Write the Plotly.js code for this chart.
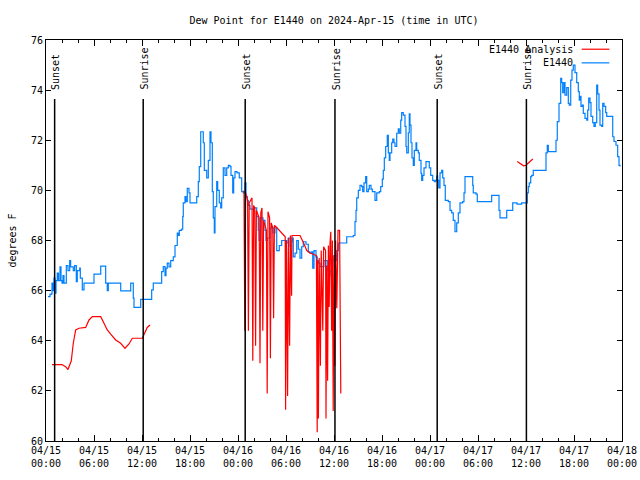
<!DOCTYPE html>
<html><head><meta charset="utf-8">
<script src="https://cdn.plot.ly/plotly-3.0.1.min.js"></script>
<style>body{margin:0;background:#fff}</style>
</head><body><div id="chart" style="width:640px;height:480px"></div>
<script>
// hours after 2024-04-15 00:00 UTC
const blueHours = [0.25,0.5,0.66,0.75,0.875,1.0,1.125,1.25,1.41,1.56,1.75,1.875,2.0,2.125,2.25,2.54,2.75,2.96,3.08,3.41,3.58,3.79,3.91,4.21,4.29,4.54,4.75,5.75,6.0,6.625,6.84,7.375,7.46,7.66,7.79,9.125,9.34,10.375,10.59,10.84,10.91,11.0,11.625,11.84,13.09,13.21,13.41,14.34,14.46,14.66,14.875,15.0,15.16,15.375,15.59,15.91,16.125,16.41,16.54,16.66,16.96,17.09,17.16,17.375,17.5,17.66,17.875,18.0,18.71,18.84,19.04,19.16,19.34,19.54,19.66,19.79,19.96,20.09,20.29,20.5,20.625,20.79,20.91,21.04,21.125,21.34,21.46,21.66,21.84,21.96,22.16,22.375,22.59,22.79,23.0,23.125,23.34,23.46,23.625,23.875,24.16,24.46,24.66,24.875,25.0,25.16,25.29,25.5,26.0,26.34,26.54,26.625,26.84,27.125,27.375,27.5,27.66,28.0,28.375,28.625,28.84,29.04,29.16,29.46,30.09,30.29,30.5,30.625,30.75,30.91,31.125,31.34,31.54,31.75,31.96,32.16,32.5,32.79,33.0,33.21,33.34,33.5,33.75,33.91,34.04,34.25,34.625,34.75,35.09,35.16,35.29,35.5,35.71,35.84,36.0,36.21,36.34,36.54,37.375,37.59,38.41,38.625,38.75,38.84,39.04,39.25,39.46,39.59,39.75,39.96,40.09,40.29,40.41,40.625,40.79,41.125,41.34,41.66,41.84,42.04,42.16,42.29,42.46,42.66,42.79,42.91,43.0,43.21,43.34,43.5,43.625,43.84,44.04,44.16,44.34,44.46,44.66,44.875,45.0,45.09,45.29,45.41,45.5,45.625,45.75,45.91,46.04,46.25,46.34,46.54,46.66,46.875,46.96,47.09,47.25,47.5,47.66,47.91,48.09,48.34,48.54,48.71,48.84,48.96,49.09,49.25,49.46,49.59,49.75,49.91,50.29,50.5,50.71,50.91,51.125,51.34,51.54,51.75,52.09,52.25,52.375,53.125,53.34,53.41,53.75,53.91,55.5,55.71,56.41,56.625,56.75,57.375,57.59,58.125,58.34,58.875,59.46,60.09,60.16,60.29,60.41,60.59,60.71,60.91,62.375,62.5,62.66,62.79,63.625,63.75,63.91,64.125,64.34,64.46,64.59,64.75,64.875,65.09,65.29,65.41,65.59,65.75,65.91,66.125,66.34,66.54,66.66,66.75,66.875,67.04,67.16,67.375,67.59,67.71,67.84,68.0,68.125,68.34,68.5,68.66,68.84,68.96,69.125,69.25,69.46,69.59,69.75,69.96,70.09,70.625,70.84,71.0,71.25,71.46,71.625,71.75];
const blueValues = [65.76,65.85,65.87,66.3,66.0,66.5,65.9,66.4,66.7,66.4,66.95,66.4,66.3,66.6,66.3,67.0,66.8,67.2,66.95,66.8,67.0,66.36,66.8,66.9,66.5,66.03,66.3,66.3,66.66,66.66,66.98,66.98,66.3,66.0,66.3,66.3,65.99,65.99,66.3,66.3,65.7,65.33,65.33,65.65,65.65,66.03,66.3,66.3,66.76,66.96,66.6,66.9,67.1,66.95,67.2,67.35,67.8,68.3,68.2,68.4,68.45,68.95,69.5,69.75,69.55,70.08,69.9,69.5,69.5,69.75,70.35,70.95,72.34,72.34,71.9,70.8,70.8,70.5,71.2,72.34,71.9,69.95,68.9,68.3,69.35,70.35,70.0,69.5,69.3,69.7,70.9,70.6,70.9,71.0,70.95,70.6,69.9,70.5,70.75,70.7,70.5,69.95,69.9,70.3,69.75,69.6,69.4,69.25,69.3,68.95,68.4,68.0,68.9,68.8,68.4,68.0,68.1,68.5,68.3,68.5,67.6,67.6,67.8,68.0,67.9,68.1,67.75,67.95,68.1,67.35,67.5,68.0,67.65,67.3,67.75,67.95,67.85,67.55,67.5,67.55,66.9,67.6,67.35,67.2,67.1,66.96,66.96,67.2,67.2,66.8,66.6,66.8,67.0,67.2,67.4,67.2,67.6,67.9,67.9,68.15,68.2,68.75,69.2,69.7,70.0,70.2,70.15,69.95,70.3,70.55,69.95,70.05,70.2,70.05,69.95,69.6,69.9,69.95,70.15,70.45,70.8,71.3,71.75,72.2,71.5,71.2,71.5,71.9,72.05,71.9,71.75,72.28,72.45,72.28,72.8,73.1,73.0,72.55,71.75,71.5,72.3,73.05,72.6,71.9,71.3,71.0,71.6,71.9,71.6,71.5,71.2,70.68,70.4,70.6,70.9,71.15,71.15,70.9,70.6,70.4,70.35,70.4,70.57,70.4,70.1,70.7,70.8,70.5,70.2,69.6,69.55,69.2,69.1,68.8,68.35,68.7,69.1,69.5,69.55,69.9,70.55,70.55,70.2,69.9,69.85,69.55,69.55,69.8,69.8,69.2,68.9,68.9,69.2,69.2,69.5,69.45,69.5,69.5,69.9,70.15,70.3,70.55,70.6,70.8,70.8,71.5,71.8,71.55,71.55,72.0,72.74,73.47,74.47,74.3,73.9,74.3,73.8,74.1,73.47,73.4,74.4,74.8,75.0,74.7,74.3,73.94,73.6,73.75,73.35,73.4,73.07,72.87,72.8,73.2,73.68,73.5,72.95,72.7,72.55,72.7,74.2,73.85,73.2,72.6,72.55,73.47,73.35,73.1,72.95,72.95,72.14,71.95,71.8,71.35,71.0,70.95];

const redHours = [0.75,2.0,2.5,2.75,3.16,3.41,3.71,4.125,4.96,5.375,5.79,6.84,7.25,7.66,8.09,8.71,9.34,9.875,10.375,10.79,12.04,12.25,12.66,13.0,
  13.5,
  24.75,24.85,24.95,25.2,25.3,25.4,25.75,25.85,25.95,26.1,26.2,26.3,26.65,26.75,26.85,27.0,27.1,27.2,27.55,27.65,27.75,27.95,28.05,28.15,28.35,28.45,28.55,28.75,29.9,29.95,30.05,30.2,30.3,30.45,30.55,30.7,30.75,31.75,32.2,32.6,33.0,33.8,33.9,33.95,34.05,34.15,34.3,34.4,34.6,34.7,34.95,35.0,35.1,35.2,35.3,35.4,35.5,35.6,35.7,35.8,35.9,36.0,36.1,36.2,36.35,36.5,36.7,36.85,
  40.0,
  58.9,59.3,59.7,60.0,60.3,60.6,60.85];
const redValues = [63.05,63.05,62.95,62.85,63.2,63.9,64.43,64.5,64.53,64.83,64.96,64.96,64.7,64.43,64.26,64.03,63.9,63.7,63.87,64.1,64.1,64.23,64.53,64.63,
  null,
  70.0,64.4,69.9,69.6,64.4,69.5,69.7,63.2,69.4,69.3,63.8,69.2,68.9,63.1,69.1,69.3,64.4,68.8,68.4,61.9,69.15,68.9,63.3,68.7,68.5,64.9,68.6,68.55,68.15,61.25,68.0,61.8,68.1,63.8,68.2,65.8,68.2,68.2,67.9,67.6,67.5,67.4,60.35,67.2,60.9,67.3,63.0,67.6,64.4,67.75,67.6,60.9,67.0,62.4,67.8,65.35,67.9,68.35,64.4,68.0,61.2,67.4,63.0,68.0,65.3,68.4,68.4,61.9,
  null,
  71.15,71.05,70.98,71.0,71.1,71.2,71.25];

const sunHours = [1.08, 12.15, 24.9, 36.12, 48.9, 60.05];
const sunLabels = ['Sunset','Sunrise','Sunset','Sunrise','Sunset','Sunrise'];
const seriesNames = ['E1440 Analysis','E1440'];

function toTime(h){
  const ms = Date.UTC(2024,3,15) + Math.round(h*3600000);
  return new Date(ms).toISOString().replace('T',' ').slice(0,19);
}

const FONT = 'DejaVu Sans Mono';
const traces = [
  {x: blueHours.map(toTime), y: blueValues, type:'scatter', mode:'lines', name: seriesNames[1],
   line:{color:'rgb(0,128,255)', width:1.2, shape:'hv'}, hoverinfo:'skip'},
  {x: redHours.map(toTime), y: redValues, type:'scatter', mode:'lines', name: seriesNames[0],
   line:{color:'rgb(255,0,0)', width:1.2}, connectgaps:false, hoverinfo:'skip'}
];

const shapes = sunHours.map(h => ({type:'line', xref:'x', yref:'y', x0:toTime(h), x1:toTime(h), y0:60, y1:73.65,
  line:{color:'black', width:1.5}}));
const annotations = sunHours.map((h,i) => ({x:toTime(h), y:73.93, xref:'x', yref:'y', text:sunLabels[i],
  textangle:-90, showarrow:false, xanchor:'center', yanchor:'bottom', xshift:1.5, font:{family:FONT,size:10,color:'black'}}));

// legend (text right-aligned, sample line to the right, like gnuplot)
const legendRows = [{name:seriesNames[0], color:'rgb(255,0,0)', y:0.977},{name:seriesNames[1], color:'rgb(0,128,255)', y:0.943}];
legendRows.forEach(r => {
  annotations.push({xref:'paper', yref:'paper', x:0.918, y:r.y, text:r.name, showarrow:false, xanchor:'right', yanchor:'middle',
    font:{family:FONT,size:10,color:'black'}});
  shapes.push({type:'line', xref:'paper', yref:'paper', x0:0.930, x1:0.978, y0:r.y, y1:r.y, line:{color:r.color,width:1.2}});
});

const layout = {
  width:640, height:480,
  margin:{l:46, r:18, t:40, b:39},
  paper_bgcolor:'white', plot_bgcolor:'white',
  font:{family:FONT, size:10, color:'black'},
  title:{text:'Dew Point for E1440 on 2024-Apr-15 (time in UTC)', x:0.5, xref:'paper', xanchor:'center',
         y:1-20/480, yref:'container', yanchor:'middle', font:{family:FONT,size:10,color:'black'}},
  showlegend:false,
  xaxis:{type:'date', range:[toTime(0), toTime(72)], tick0:toTime(0), dtick:21600000,
         tickformat:'%m/%d<br>%H:%M', ticks:'inside', ticklen:6, tickcolor:'black', tickwidth:1,
         showline:true, linecolor:'black', linewidth:1, mirror:'ticks', showgrid:false, zeroline:false,
         minor:{dtick:7200000, ticks:'inside', ticklen:3, tickcolor:'black', showgrid:false},
         tickfont:{family:FONT,size:10,color:'black'}, automargin:false},
  yaxis:{range:[60,76], dtick:2, ticks:'inside', ticklen:5, tickcolor:'black',
         showline:true, linecolor:'black', linewidth:1, mirror:'ticks', showgrid:false, zeroline:false,
         tickfont:{family:FONT,size:10,color:'black'}, automargin:false,
         title:{text:'degrees F', standoff:12, font:{family:FONT,size:10,color:'black'}}},
  shapes: shapes,
  annotations: annotations
};
Plotly.newPlot('chart', traces, layout, {staticPlot:true, displayModeBar:false});
</script></body></html>
